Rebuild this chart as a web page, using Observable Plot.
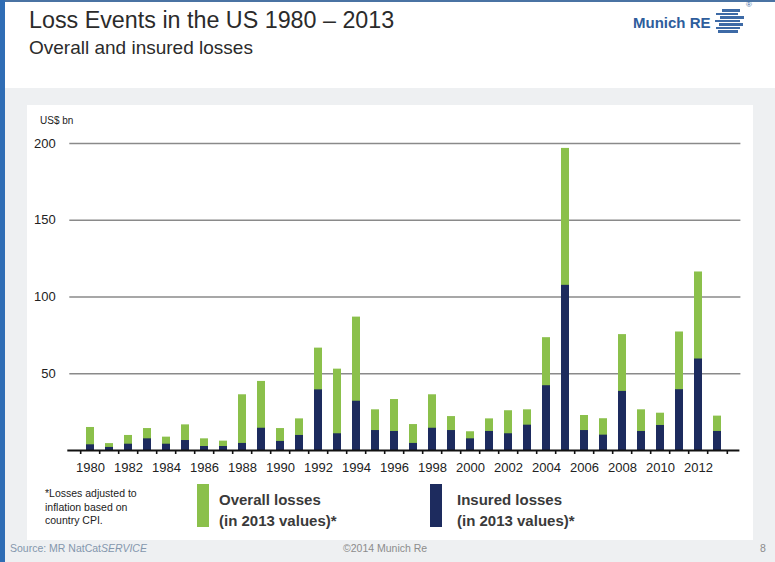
<!DOCTYPE html>
<html>
<head>
<meta charset="utf-8">
<script src="https://cdn.jsdelivr.net/npm/d3@7"></script>
<script src="https://cdn.jsdelivr.net/npm/@observablehq/plot@0.6"></script>
<style>
  html, body { margin: 0; padding: 0; }
  body { width: 775px; height: 562px; position: relative; overflow: hidden; background: #eef0f2; font-family: "Liberation Sans", Arial, sans-serif; }
  .abs { position: absolute; white-space: nowrap; }
  #top { left: 0; top: 0; width: 775px; height: 88px; background: #fff; }
  #topline { left: 0; top: 0; width: 775px; height: 2px; background: #4a73a3; }
  #leftstrip { left: 0; top: 0; width: 5px; height: 562px; background: #2f6db5; }
  #panel { left: 27px; top: 105px; width: 726px; height: 435px; background: #fff; }
  #title { left: 29px; top: 7px; font-size: 23.3px; color: #2b2b2b; }
  #subtitle { left: 29px; top: 37px; font-size: 19px; color: #2b2b2b; }
  #logo { left: 633px; top: 14px; font-size: 15px; font-weight: bold; color: #2e5d9c; }
  .stripe { position: absolute; height: 2.6px; background: #3d6aa6; }
  #reg { left: 746px; top: 0px; font-size: 8px; color: #3d6aa6; }
  #unit { left: 40px; top: 115px; font-size: 10px; color: #222; }
  #note { left: 45px; top: 487px; font-size: 10.5px; line-height: 13.5px; color: #222; white-space: normal; width: 120px; }
  .sw { position: absolute; width: 12px; height: 43px; }
  .leg { font-size: 15px; font-weight: bold; color: #3a3a3a; line-height: 21px; }
  #src { left: 10px; top: 542px; font-size: 10.5px; color: #8497ad; }
  #copy { left: 343px; top: 542px; font-size: 10.5px; color: #8c8c8c; }
  #page { left: 760px; top: 542px; font-size: 10.5px; color: #8c8c8c; }
  #chart { position: absolute; left: 0; top: 0; }
</style>
</head>
<body>
<div id="top" class="abs"></div>
<div id="topline" class="abs"></div>
<div id="leftstrip" class="abs"></div>
<div id="panel" class="abs"></div>
<div id="title" class="abs">Loss Events in the US 1980 – 2013</div>
<div id="subtitle" class="abs">Overall and insured losses</div>
<div id="logo" class="abs">Munich RE</div>
<div class="stripe" style="left:722px;top:9px;width:18px"></div>
<div class="stripe" style="left:716px;top:12.5px;width:22px"></div>
<div class="stripe" style="left:720px;top:16px;width:24px"></div>
<div class="stripe" style="left:715px;top:19.5px;width:25px"></div>
<div class="stripe" style="left:719px;top:23px;width:24px"></div>
<div class="stripe" style="left:716px;top:26.5px;width:24px"></div>
<div class="stripe" style="left:718px;top:30px;width:20px"></div>
<div id="reg" class="abs">®</div>
<div id="unit" class="abs">US$ bn</div>
<div id="note" class="abs">*Losses adjusted to<br>inflation based on<br>country CPI.</div>
<div class="sw" style="left:197px;top:484px;background:#8bc04b"></div>
<div class="abs leg" style="left:219px;top:489px">Overall losses<br>(in 2013 values)*</div>
<div class="sw" style="left:430px;top:484px;background:#1d2b5e"></div>
<div class="abs leg" style="left:457px;top:489px">Insured losses<br>(in 2013 values)*</div>
<div id="src" class="abs">Source: MR NatCat<i>SERVICE</i></div>
<div id="copy" class="abs">©2014 Munich Re</div>
<div id="page" class="abs">8</div>
<div id="chart"></div>
<script>
const years = [1980,1981,1982,1983,1984,1985,1986,1987,1988,1989,1990,1991,1992,1993,1994,1995,1996,1997,1998,1999,2000,2001,2002,2003,2004,2005,2006,2007,2008,2009,2010,2011,2012,2013];
const overallLosses = [15,4.5,9.8,14.3,8.7,16.7,7.6,6.1,36.3,45,14.3,20.6,66.7,53,86.9,26.5,33.2,16.9,36.3,22.1,12.2,20.6,25.9,26.5,73.5,196.8,22.8,20.7,75.5,26.5,24.3,77.2,116.3,22.4];
const insuredLosses = [3.7,2,4.1,7.6,4.1,6.5,2.6,2.6,4.6,14.5,5.9,9.8,39.5,10.9,32.1,13,12.4,4.6,14.5,13,7.6,12.4,10.9,16.5,42.2,107.6,13,10,38.5,12.4,16.3,39.6,59.6,12.4];
const yTicks = [50,100,150,200];
const xLabelYears = [1980,1982,1984,1986,1988,1990,1992,1994,1996,1998,2000,2002,2004,2006,2008,2010,2012];

const data = years.map((y, i) => ({year: y, overall: overallLosses[i], insured: insuredLosses[i]}));

const W = 775, mL = 69.3, mR = 37.6;
const half = (W - mL - mR) / years.length / 2;

const chart = Plot.plot({
  width: W,
  height: 480,
  marginLeft: mL,
  marginRight: mR,
  marginTop: 143,
  marginBottom: 30,
  style: {background: "transparent", fontFamily: "Liberation Sans, Arial, sans-serif", fontSize: "13px", color: "#222", overflow: "visible"},
  x: {type: "band", domain: years, paddingInner: 0.56, paddingOuter: 0.28},
  y: {domain: [0, 200]},
  marks: [
    Plot.ruleY(yTicks, {y: d => d, stroke: "#8a8a8a", strokeWidth: 1.6, insetRight: -3}),
    Plot.barY(data, {x: "year", y: "overall", fill: "#8bc04b"}),
    Plot.barY(data, {x: "year", y: "insured", fill: "#1d2b5e"}),
    Plot.axisY({ticks: yTicks, tickSize: 0, tickPadding: 14, label: null, fontSize: 13}),
    Plot.axisX({ticks: xLabelYears, tickSize: 0, tickPadding: 12, label: null, fontSize: 13, tickFormat: d => String(d)}),
    Plot.ruleX(years, {x: d => d, y1: 0, y2: 0, dx: -half, insetTop: 4, stroke: "#111", strokeWidth: 1.6}),
    Plot.ruleX(years.slice(-1), {x: d => d, y1: 0, y2: 0, dx: half, insetTop: 4, stroke: "#111", strokeWidth: 1.6}),
    Plot.ruleY([0], {stroke: "#111", strokeWidth: 2, insetLeft: -2, insetRight: -2})
  ]
});
document.getElementById("chart").appendChild(chart);
</script>
</body>
</html>
